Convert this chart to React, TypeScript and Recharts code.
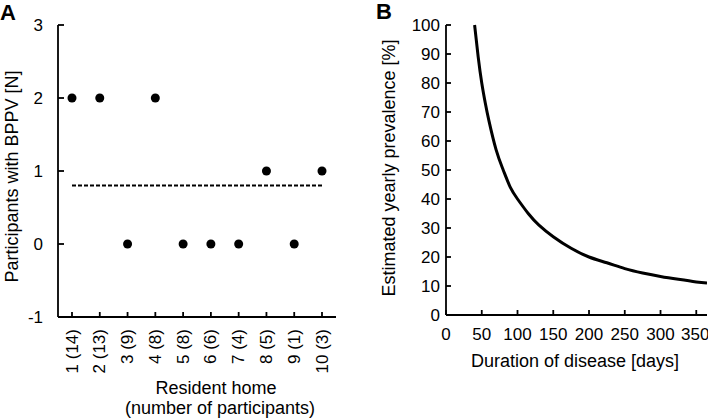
import { ComposedChart, Line, LineChart, XAxis, YAxis } from 'recharts';

// Panel A: participants with BPPV per resident home
const homes = ['1 (14)', '2 (13)', '3 (9)', '4 (8)', '5 (8)', '6 (6)', '7 (4)', '8 (5)', '9 (1)', '10 (3)'];
const bppvCounts = [2, 2, 0, 2, 0, 0, 0, 1, 0, 1];
const meanCount = 0.8;
const countTicks = [-1, 0, 1, 2, 3];

// Panel B: estimated yearly prevalence vs disease duration
const durationDays = [40, 45, 50, 55, 60, 70, 80, 90, 100, 115, 130, 150, 175, 200, 225, 250, 275, 300, 325, 350, 365];
const prevalencePct = [100, 89, 80, 73, 67, 57, 50, 44, 40, 35, 31, 27, 23, 20, 18, 16, 14.5, 13.3, 12.3, 11.4, 11];
const dayTicks = [0, 50, 100, 150, 200, 250, 300, 350];
const pctTicks = [0, 10, 20, 30, 40, 50, 60, 70, 80, 90, 100];

const font = '"Liberation Sans", Arial, sans-serif';
const axisStroke = { stroke: '#000', strokeWidth: 1.8 };
const tickText = { fill: '#000', fontSize: 17 };

const homeData = homes.map((home, i) => ({ home, bppv: bppvCounts[i], mean: meanCount }));
const curveData = durationDays.map((days, i) => ({ days, pct: prevalencePct[i] }));

function HomeTick(props: any) {
  const { x, y, payload } = props;
  return (
    <text
      x={x}
      y={y}
      transform={`rotate(-90, ${x}, ${y})`}
      textAnchor="end"
      dominantBaseline="central"
      fontSize={17}
      fill="#000"
    >
      {payload.value}
    </text>
  );
}

function PanelA() {
  return (
    <ComposedChart
      width={354}
      height={419}
      data={homeData}
      margin={{ top: 25, right: 18, left: 0, bottom: 0 }}
      style={{ fontFamily: font }}
    >
      <XAxis
        dataKey="home"
        height={102}
        interval={0}
        padding={{ left: 14, right: 14 }}
        axisLine={axisStroke}
        tickLine={axisStroke}
        tickSize={-5}
        tickMargin={17}
        tick={<HomeTick />}
        label={{
          content: () => (
            <text fontSize={18} fill="#000" textAnchor="middle">
              <tspan x={216} y={394}>Resident home</tspan>
              <tspan x={220} y={414}>(number of participants)</tspan>
            </text>
          ),
        }}
      />
      <YAxis
        type="number"
        domain={[-1, 3]}
        ticks={countTicks}
        width={58}
        axisLine={axisStroke}
        tickLine={axisStroke}
        tickSize={-6}
        tickMargin={21}
        tick={tickText}
        label={{
          content: () => (
            <g>
              <text x={0} y={20} fontSize={22} fontWeight="bold" fill="#000">A</text>
              <text transform="rotate(-90)" x={-176.5} y={17.5} fontSize={18} fill="#000" textAnchor="middle">
                Participants with BPPV [N]
              </text>
            </g>
          ),
        }}
      />
      <Line
        dataKey="mean"
        stroke="#000"
        strokeWidth={2}
        strokeDasharray="4 2"
        dot={false}
        activeDot={false}
        isAnimationActive={false}
      />
      <Line
        dataKey="bppv"
        stroke="none"
        dot={{ r: 4.5, fill: '#000', stroke: '#000', strokeWidth: 0 }}
        activeDot={false}
        isAnimationActive={false}
      />
    </ComposedChart>
  );
}

function PanelB() {
  return (
    <LineChart
      width={354}
      height={419}
      data={curveData}
      margin={{ top: 25, right: 1, left: 0, bottom: 0 }}
      style={{ fontFamily: font }}
    >
      <XAxis
        dataKey="days"
        type="number"
        domain={[0, 365]}
        ticks={dayTicks}
        height={104}
        allowDataOverflow
        axisLine={axisStroke}
        tickLine={axisStroke}
        tickSize={-5}
        tickMargin={18}
        tick={tickText}
        label={{
          content: () => (
            <text x={221} y={367} fontSize={18} fill="#000" textAnchor="middle">
              Duration of disease [days]
            </text>
          ),
        }}
      />
      <YAxis
        type="number"
        domain={[0, 100]}
        ticks={pctTicks}
        width={92}
        axisLine={axisStroke}
        tickLine={axisStroke}
        tickSize={-5}
        tickMargin={11}
        tick={tickText}
        label={{
          content: () => (
            <g>
              <text x={22} y={19} fontSize={22} fontWeight="bold" fill="#000">B</text>
              <text transform="rotate(-90)" x={-168} y={41} fontSize={18} fill="#000" textAnchor="middle">
                Estimated yearly prevalence [%]
              </text>
            </g>
          ),
        }}
      />
      <Line
        type="natural"
        dataKey="pct"
        stroke="#000"
        strokeWidth={3}
        dot={false}
        activeDot={false}
        isAnimationActive={false}
      />
    </LineChart>
  );
}

export default function App() {
  return (
    <div
      style={{
        position: 'absolute',
        left: 0,
        top: 0,
        width: 708,
        height: 419,
        display: 'flex',
        background: '#fff',
      }}
    >
      <PanelA />
      <PanelB />
    </div>
  );
}
